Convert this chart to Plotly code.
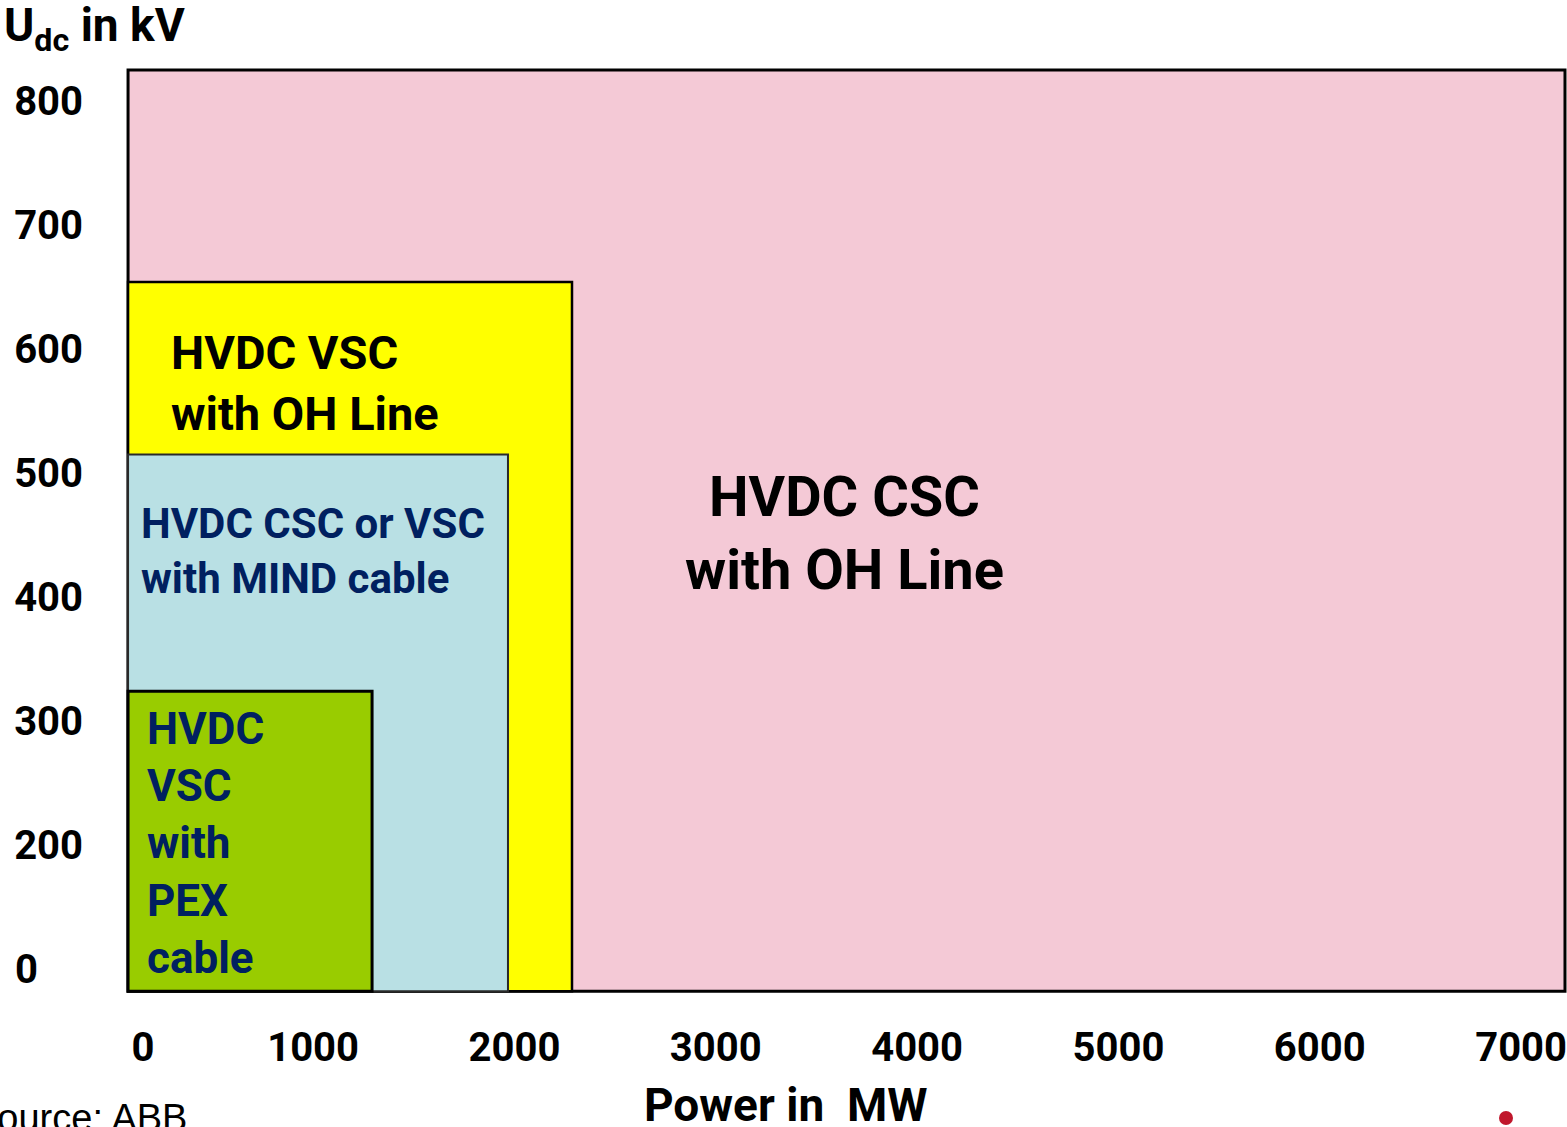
import plotly.graph_objects as go

# ---- data ----
regions = ["HVDC CSC with OH Line", "HVDC VSC with OH Line",
           "HVDC CSC or VSC with MIND cable", "HVDC VSC with PEX cable"]
power_min = [81, 81, 81, 81]          # MW (left edge of each region)
power_max = [7218, 2286, 1968, 1293]  # MW
udc_min = [82, 82, 82, 82]            # kV
udc_max = [825, 654, 515, 324]        # kV

x_tick_vals = [155, 1000, 2000, 3000, 4000, 5000, 6000, 7000]
x_tick_text = ["0", "1000", "2000", "3000", "4000", "5000", "6000", "7000"]
y_tick_vals = [100, 200, 300, 400, 500, 600, 700, 800]
y_tick_text = ["0", "200", "300", "400", "500", "600", "700", "800"]

label_text = ["HVDC CSC<br>with OH Line", "HVDC VSC<br>with OH Line",
              "HVDC CSC or VSC<br>with MIND cable",
              "HVDC<br>VSC<br>with<br>PEX<br>cable"]
label_x = [3640, 285, 135, 165]
label_y = [451, 573, 437, 201]

# ---- styles ----
fills = ["#f4c9d6", "#ffff00", "#b9e0e4", "#99cc00"]
edge_colors = ["#000000", "#000000", "#2a2a2a", "#000000"]
edge_widths = [3, 2.5, 2, 3]
label_colors = ["#000000", "#000000", "#002060", "#002060"]
label_sizes = [56, 47, 42, 44]
label_anchor = ["center", "left", "left", "left"]

BOLD = "Roboto, Liberation Sans, Arial, sans-serif"

fig = go.Figure()

# invisible trace to establish axes
fig.add_trace(go.Scatter(x=[power_min[0], power_max[0]], y=[udc_min[0], udc_max[0]],
                         mode="markers", marker=dict(opacity=0, size=1), hoverinfo="skip",
                         showlegend=False))

for i in range(len(regions)):
    fig.add_shape(type="rect", xref="x", yref="y",
                  x0=power_min[i], x1=power_max[i], y0=udc_min[i], y1=udc_max[i],
                  fillcolor=fills[i], line=dict(color=edge_colors[i], width=edge_widths[i]),
                  layer="below")
    fig.add_annotation(x=label_x[i], y=label_y[i], xref="x", yref="y",
                       text="<b>" + label_text[i] + "</b>", showarrow=False,
                       xanchor=label_anchor[i], yanchor="middle", align=label_anchor[i],
                       font=dict(family=BOLD, size=label_sizes[i], color=label_colors[i]))

# axis titles and decorations (plot area is 1447 x 940 px)
fig.add_annotation(x=-0.0816, y=1.034, xref="paper", yref="paper",
                   text="<b>U<sub>dc</sub> in kV</b>", showarrow=False,
                   xanchor="left", yanchor="middle",
                   font=dict(family=BOLD, size=46, color="#000000"))
fig.add_annotation(x=0.4605, y=-0.112, xref="paper", yref="paper",
                   text="<b>Power in \u00a0MW</b>", showarrow=False,
                   xanchor="center", yanchor="middle",
                   font=dict(family=BOLD, size=46, color="#000000"))
fig.add_annotation(x=-0.1035, y=-0.126, xref="paper", yref="paper",
                   text="Source: ABB", showarrow=False,
                   xanchor="left", yanchor="middle",
                   font=dict(family="Liberation Sans, Arial, sans-serif", size=38, color="#000000"))
fig.add_shape(type="circle", xref="paper", yref="paper",
              x0=(1499 - 120) / 1447, x1=(1513 - 120) / 1447,
              y0=(1000 - 1125) / 940, y1=(1000 - 1111) / 940,
              fillcolor="#c0172c", line=dict(width=0))

fig.update_layout(
    width=1567, height=1127,
    margin=dict(l=120, r=0, t=60, b=127, autoexpand=False),
    paper_bgcolor="white", plot_bgcolor="white",
    showlegend=False,
    font=dict(family=BOLD, size=40, color="#000000"),
    xaxis=dict(range=[41, 7228], tickvals=x_tick_vals,
               ticktext=["<b>" + t + "</b>" for t in x_tick_text],
               showgrid=False, zeroline=False, showline=False, ticks="",
               automargin=False, ticklabeloverflow="allow",
               ticklabelstandoff=20, tickfont=dict(family=BOLD, size=40)),
    yaxis=dict(range=[75, 833.1], tickvals=y_tick_vals,
               ticktext=["<b>" + (t + "\u2007\u2007" if t == "0" else t) + "</b>" for t in y_tick_text],
               showgrid=False, zeroline=False, showline=False, ticks="",
               automargin=False, ticklabeloverflow="allow",
               ticklabelstandoff=36, tickfont=dict(family=BOLD, size=40)),
)

fig.write_html("out.html", config={"displayModeBar": False},
               post_script="document.body.style.margin='0';document.body.style.overflow='hidden';")
